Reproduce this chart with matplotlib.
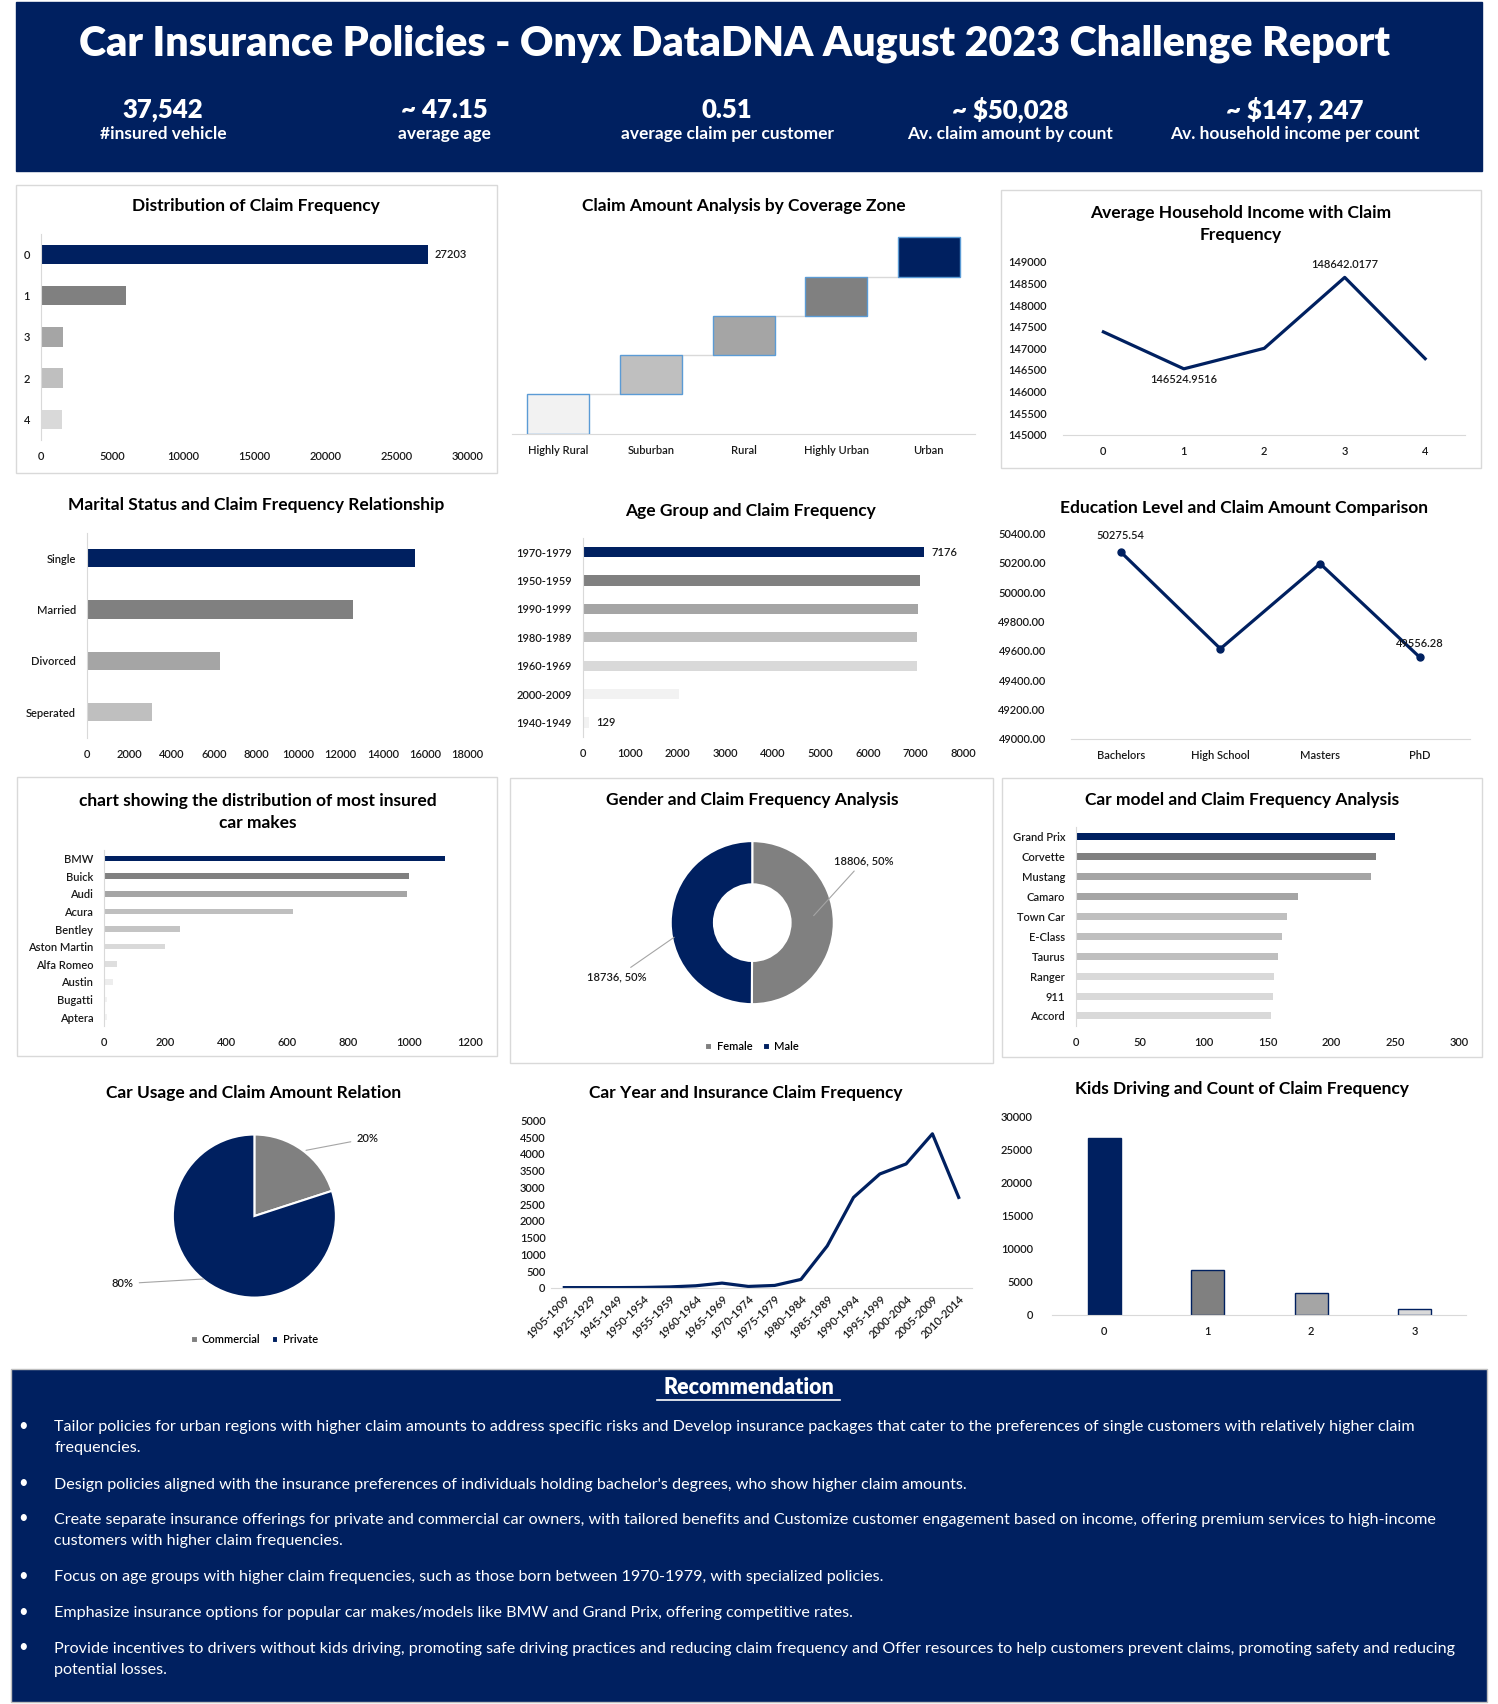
import numpy as np
import matplotlib
matplotlib.use('Agg')
import matplotlib.pyplot as plt
from matplotlib.patches import Rectangle

plt.rcParams['font.family'] = ['Lato', 'DejaVu Sans']

NAVY = '#002060'
TXT = '#1A1A1A'
GRID = '#D9D9D9'

#========================= Data ===============================================
kpi_values = ['37,542', '~ 47.15', '0.51', '~ $50,028', '~ $147, 247']
kpi_labels = ['#insured vehicle', 'average age', 'average claim per customer',
              'Av. claim amount by count', 'Av. household income per count']

freq_cats = ['0', '1', '3', '2', '4']
freq_vals = [27203, 5950, 1520, 1510, 1450]

zone_cats = ['Highly Rural', 'Suburban', 'Rural', 'Highly Urban', 'Urban']
zone_vals = [375.0, 375.0, 375.0, 375.0, 375.0]

inc_cats = ['0', '1', '2', '3', '4']
inc_vals = [147380, 146524.9516, 147000, 148642.0177, 146760]

marital_cats = ['Single', 'Married', 'Divorced', 'Seperated']
marital_vals = [15500, 12600, 6300, 3100]

age_cats = ['1970-1979', '1950-1959', '1990-1999', '1980-1989', '1960-1969',
            '2000-2009', '1940-1949']
age_vals = [7176, 7100, 7060, 7020, 7020, 2030, 129]

edu_cats = ['Bachelors', 'High School', 'Masters', 'PhD']
edu_vals = [50275.54, 49615, 50195, 49556.28]

make_cats = ['BMW', 'Buick', 'Audi', 'Acura', 'Bentley', 'Aston Martin',
             'Alfa Romeo', 'Austin', 'Bugatti', 'Aptera']
make_vals = [1120, 1000, 995, 620, 250, 198, 40, 27, 10, 10]

gender_cats = ['Female', 'Male']
gender_vals = [18806, 18736]

model_cats = ['Grand Prix', 'Corvette', 'Mustang', 'Camaro', 'Town Car',
              'E-Class', 'Taurus', 'Ranger', '911', 'Accord']
model_vals = [250, 235, 231, 174, 165, 161, 158, 155, 154, 153]

usage_cats = ['Commercial', 'Private']
usage_vals = [20, 80]

year_cats = ['1905-1909', '1925-1929', '1945-1949', '1950-1954', '1955-1959',
             '1960-1964', '1965-1969', '1970-1974', '1975-1979', '1980-1984',
             '1985-1989', '1990-1994', '1995-1999', '2000-2004', '2005-2009',
             '2010-2014']
year_vals = [5, 5, 5, 10, 25, 60, 140, 40, 70, 250, 1250, 2700, 3400, 3700,
             4600, 2700]

kids_cats = ['0', '1', '2', '3']
kids_vals = [26700, 6800, 3250, 850]

recs = [
    "Tailor policies for urban regions with higher claim amounts to address specific risks and Develop insurance packages that cater to the preferences of single customers with relatively higher claim\nfrequencies.",
    "Design policies aligned with the insurance preferences of individuals holding bachelor's degrees, who show higher claim amounts.",
    "Create separate insurance offerings for private and commercial car owners, with tailored benefits and Customize customer engagement based on income, offering premium services to high-income\ncustomers with higher claim frequencies.",
    "Focus on age groups with higher claim frequencies, such as those born between 1970-1979, with specialized policies.",
    "Emphasize insurance options for popular car makes/models like BMW and Grand Prix, offering competitive rates.",
    "Provide incentives to drivers without kids driving, promoting safe driving practices and reducing claim frequency and Offer resources to help customers prevent claims, promoting safety and reducing\npotential losses.",
]

#========================= Layout helpers =====================================
# positions measured on a 1378 x 1568 view of the reference
W, H = 1378.0, 1568.0
fig = plt.figure(figsize=(14.98, 17.04), dpi=100)

def box(x0, y0, x1, y1):
    return [x0 / W, 1 - y1 / H, (x1 - x0) / W, (y1 - y0) / H]

def ftext(x, y, s, **kw):
    fig.text(x / W, 1 - y / H, s, **kw)

def frame(x0, y0, x1, y1, fc='none', ec=GRID, lw=1.0):
    fig.patches.append(Rectangle((x0 / W, 1 - y1 / H), (x1 - x0) / W, (y1 - y0) / H,
                                 transform=fig.transFigure, facecolor=fc,
                                 edgecolor=ec, linewidth=lw, zorder=0))

def title(x, y, s):
    ftext(x, y, s, ha='center', va='center', fontsize=12.5, fontweight='bold',
          color='black', linespacing=1.45)

def ticks(ax, pad=8):
    ax.tick_params(length=0, labelsize=8, colors=TXT, pad=pad)
    for lab in ax.get_xticklabels() + ax.get_yticklabels():
        lab.set_fontweight('semibold')

def hbar(ax, cats, vals, colors, height, xmax, step):
    y = np.arange(len(cats))
    ax.barh(y, vals, height=height, color=colors)
    ax.set_yticks(y)
    ax.set_yticklabels(cats)
    ax.set_ylim(len(cats) - 0.5, -0.5)
    ax.set_xlim(0, xmax)
    ax.set_xticks(np.arange(0, xmax + 1, step))
    for s in ['top', 'right', 'bottom']:
        ax.spines[s].set_visible(False)
    ax.spines['left'].set_color(GRID)
    ticks(ax)
    ax.set_facecolor('none')

def clean_bottom(ax, pad=8):
    for s in ['top', 'right', 'left']:
        ax.spines[s].set_visible(False)
    ax.spines['bottom'].set_color(GRID)
    ticks(ax, pad)
    ax.set_facecolor('none')

def label(ax, x, y, s, **kw):
    ax.text(x, y, s, fontsize=8, color=TXT, fontweight='semibold', **kw)

#========================= Header =============================================
frame(15, 2, 1363, 157, fc=NAVY, ec=NAVY)
ftext(676, 40, 'Car Insurance Policies - Onyx DataDNA August 2023 Challenge Report',
      ha='center', va='center', fontsize=29.6, fontweight='heavy', color='white')
kpi_x = [150, 409, 669, 929, 1191]
for x, v, l in zip(kpi_x, kpi_values, kpi_labels):
    ftext(x, 101, v, ha='center', va='center', fontsize=18.5, fontweight='heavy', color='white')
    ftext(x, 123, l, ha='center', va='center', fontsize=12.5, fontweight='bold', color='white')

#========================= Panel frames =======================================
frame(15, 170, 457, 435)
frame(921, 175, 1362, 431)
frame(16, 715, 457, 972)
frame(469, 716, 913, 978)
frame(922, 716, 1363, 973)

#========================= Row 1 ==============================================
title(235, 190, 'Distribution of Claim Frequency')
ax = fig.add_axes(box(38, 215, 430, 405))
hbar(ax, freq_cats, freq_vals, [NAVY, '#808080', '#A5A5A5', '#BFBFBF', '#D9D9D9'],
     0.47, 30000, 5000)
label(ax, freq_vals[0] + 500, 0, str(freq_vals[0]), va='center')

title(684, 190, 'Claim Amount Analysis by Coverage Zone')
ax = fig.add_axes(box(471, 213, 897, 399))
bottoms = np.concatenate([[0], np.cumsum(zone_vals)[:-1]])
xz = np.arange(len(zone_cats))
ax.bar(xz, zone_vals, bottom=bottoms, width=0.67,
       color=['#F2F2F2', '#BFBFBF', '#A5A5A5', '#808080', NAVY],
       edgecolor='#5B9BD5', linewidth=1.0, zorder=3)
tops = bottoms + np.array(zone_vals)
for i in range(len(zone_cats) - 1):
    ax.plot([i + 0.335, i + 1 - 0.335], [tops[i], tops[i]], color=GRID, lw=1, zorder=2)
ax.set_xlim(-0.5, len(zone_cats) - 0.5)
ax.set_ylim(0, tops[-1] * 1.03)
ax.set_xticks(xz)
ax.set_xticklabels(zone_cats)
ax.set_yticks([])
clean_bottom(ax)

title(1141, 206, 'Average Household Income with Claim\nFrequency')
ax = fig.add_axes(box(978, 241, 1348, 400))
xi = np.arange(len(inc_cats))
ax.plot(xi, inc_vals, color=NAVY, lw=2.3)
ax.set_xlim(-0.5, 4.5)
ax.set_ylim(145000, 149000)
ax.set_yticks(np.arange(145000, 149001, 500))
ax.set_xticks(xi)
ax.set_xticklabels(inc_cats)
clean_bottom(ax)
ax.tick_params(axis='y', pad=12)
label(ax, 1, inc_vals[1] - 130, '{:.4f}'.format(inc_vals[1]), ha='center', va='top')
label(ax, 3, inc_vals[3] + 180, '{:.4f}'.format(inc_vals[3]), ha='center', va='bottom')

#========================= Row 2 ==============================================
title(236, 465, 'Marital Status and Claim Frequency Relationship')
ax = fig.add_axes(box(80, 490, 430, 679))
hbar(ax, marital_cats, marital_vals, [NAVY, '#808080', '#A5A5A5', '#BFBFBF'],
     0.36, 18000, 2000)

title(690, 470, 'Age Group and Claim Frequency')
ax = fig.add_axes(box(536, 495, 886, 678))
hbar(ax, age_cats, age_vals,
     [NAVY, '#808080', '#A5A5A5', '#BFBFBF', '#D9D9D9', '#F2F2F2', '#F2F2F2'],
     0.36, 8000, 1000)
label(ax, age_vals[0] + 150, 0, str(age_vals[0]), va='center')
label(ax, age_vals[-1] + 150, 6, str(age_vals[-1]), va='center')

title(1144, 467, 'Education Level and Claim Amount Comparison')
ax = fig.add_axes(box(985, 491, 1352, 680))
xe = np.arange(len(edu_cats))
ax.plot(xe, edu_vals, color=NAVY, lw=2.3, marker='o', markersize=5)
ax.set_xlim(-0.5, 3.5)
ax.set_ylim(49000, 50400)
ax.set_yticks(np.arange(49000, 50401, 200))
ax.set_yticklabels(['{:.2f}'.format(v) for v in np.arange(49000, 50401, 200)])
ax.set_xticks(xe)
ax.set_xticklabels(edu_cats)
clean_bottom(ax)
ax.tick_params(axis='y', pad=18)
label(ax, 0, edu_vals[0] + 75, '{:.2f}'.format(edu_vals[0]), ha='center', va='bottom')
label(ax, 3, edu_vals[3] + 60, '{:.2f}'.format(edu_vals[3]), ha='center', va='bottom')

#========================= Row 3 ==============================================
title(237, 747, 'chart showing the distribution of most insured\ncar makes')
ax = fig.add_axes(box(96, 782, 432, 944))
hbar(ax, make_cats, make_vals,
     [NAVY, '#808080', '#A5A5A5', '#BFBFBF', '#C4C4C4', '#D9D9D9', '#DEDEDE',
      '#EDEDED', '#F2F2F2', '#F2F2F2'], 0.32, 1200, 200)

title(692, 736, 'Gender and Claim Frequency Analysis')
ax = fig.add_axes(box(592, 749, 792, 949))
ax.pie(gender_vals, colors=['#808080', NAVY], startangle=90, counterclock=False,
       radius=1, wedgeprops=dict(width=0.53, edgecolor='white', linewidth=1.5))
ax.set_xlim(-1.333, 1.333)
ax.set_ylim(-1.333, 1.333)
ax.set_aspect('equal')
tot = sum(gender_vals)
lab_f = '{}, {:.0f}%'.format(gender_vals[0], 100 * gender_vals[0] / tot)
lab_m = '{}, {:.0f}%'.format(gender_vals[1], 100 * gender_vals[1] / tot)
ax.annotate(lab_f, xy=(0.73, 0.06), xytext=(1.0, 0.76), fontsize=8, color=TXT,
            fontweight='semibold', va='center', ha='left', annotation_clip=False,
            arrowprops=dict(arrowstyle='-', color='#A5A5A5', lw=0.8))
ax.annotate(lab_m, xy=(-0.93, -0.16), xytext=(-1.3, -0.67), fontsize=8, color=TXT,
            fontweight='semibold', va='center', ha='right', annotation_clip=False,
            arrowprops=dict(arrowstyle='-', color='#A5A5A5', lw=0.8))
ax.legend(gender_cats, loc='center', bbox_to_anchor=(0.5, -0.07), ncol=2,
          frameon=False, handlelength=0.6, handleheight=0.6,
          columnspacing=1.0, handletextpad=0.4,
          prop=dict(size=8, weight='semibold'))

title(1143, 736, 'Car model and Claim Frequency Analysis')
ax = fig.add_axes(box(990, 761, 1342, 944))
hbar(ax, model_cats, model_vals,
     [NAVY, '#808080', '#A5A5A5', '#A5A5A5', '#BFBFBF', '#BFBFBF', '#BFBFBF',
      '#D9D9D9', '#D9D9D9', '#D9D9D9'], 0.35, 300, 50)

#========================= Row 4 ==============================================
title(233, 1006, 'Car Usage and Claim Amount Relation')
ax = fig.add_axes(box(134, 1019, 334, 1219))
ax.pie(usage_vals, colors=['#808080', NAVY], startangle=90, counterclock=False,
       radius=1, wedgeprops=dict(edgecolor='white', linewidth=1.5))
ax.set_xlim(-1.333, 1.333)
ax.set_ylim(-1.333, 1.333)
ax.set_aspect('equal')
ax.annotate('{}%'.format(usage_vals[0]), xy=(0.6, 0.8), xytext=(1.25, 0.95),
            fontsize=8, color=TXT, fontweight='semibold', va='center', ha='left',
            annotation_clip=False,
            arrowprops=dict(arrowstyle='-', color='#A5A5A5', lw=0.8))
ax.annotate('{}%'.format(usage_vals[1]), xy=(-0.59, -0.77), xytext=(-1.48, -0.83),
            fontsize=8, color=TXT, fontweight='semibold', va='center', ha='right',
            annotation_clip=False,
            arrowprops=dict(arrowstyle='-', color='#A5A5A5', lw=0.8))
ax.legend(usage_cats, loc='center', bbox_to_anchor=(0.5, -0.07), ncol=2,
          frameon=False, handlelength=0.6, handleheight=0.6,
          columnspacing=1.0, handletextpad=0.4,
          prop=dict(size=8, weight='semibold'))

title(686, 1006, 'Car Year and Insurance Claim Frequency')
ax = fig.add_axes(box(507, 1031, 894, 1185))
xy_ = np.arange(len(year_cats))
ax.plot(xy_, year_vals, color=NAVY, lw=2.3)
ax.set_xlim(-0.5, len(year_cats) - 0.5)
ax.set_ylim(0, 5000)
ax.set_yticks(np.arange(0, 5001, 500))
ax.set_xticks(xy_)
ax.set_xticklabels(year_cats, rotation=45, ha='right', rotation_mode='anchor')
clean_bottom(ax, pad=4)

title(1142, 1002, 'Kids Driving and Count of Claim Frequency')
ax = fig.add_axes(box(968, 1027, 1349, 1210))
xk = np.arange(len(kids_cats))
ax.bar(xk, kids_vals, width=0.32, color=[NAVY, '#808080', '#A5A5A5', '#D9D9D9'],
       edgecolor=NAVY, linewidth=1.0)
ax.set_xlim(-0.5, 3.5)
ax.set_ylim(0, 30000)
ax.set_yticks(np.arange(0, 30001, 5000))
ax.set_xticks(xk)
ax.set_xticklabels(kids_cats)
clean_bottom(ax)
ax.tick_params(axis='y', pad=14)

#========================= Recommendation =====================================
frame(10, 1260, 1368, 1566, fc=NAVY, ec='#BFBFBF')
ftext(689, 1277, 'Recommendation', ha='center', va='center', fontsize=15.5,
      fontweight='heavy', color='white')
fig.add_artist(plt.Line2D([604 / W, 773 / W], [1 - 1288 / H, 1 - 1288 / H],
                          color='white', lw=1.2))
rec_y = [1312, 1365, 1397, 1450, 1483, 1516]
for y, r in zip(rec_y, recs):
    ftext(21, y, '\u2022', ha='center', va='center', fontsize=12, color='white')
    ftext(50, y - 5, r, ha='left', va='top', fontsize=11.6, color='white',
          linespacing=1.62)

fig.savefig('out.png', dpi=100)
